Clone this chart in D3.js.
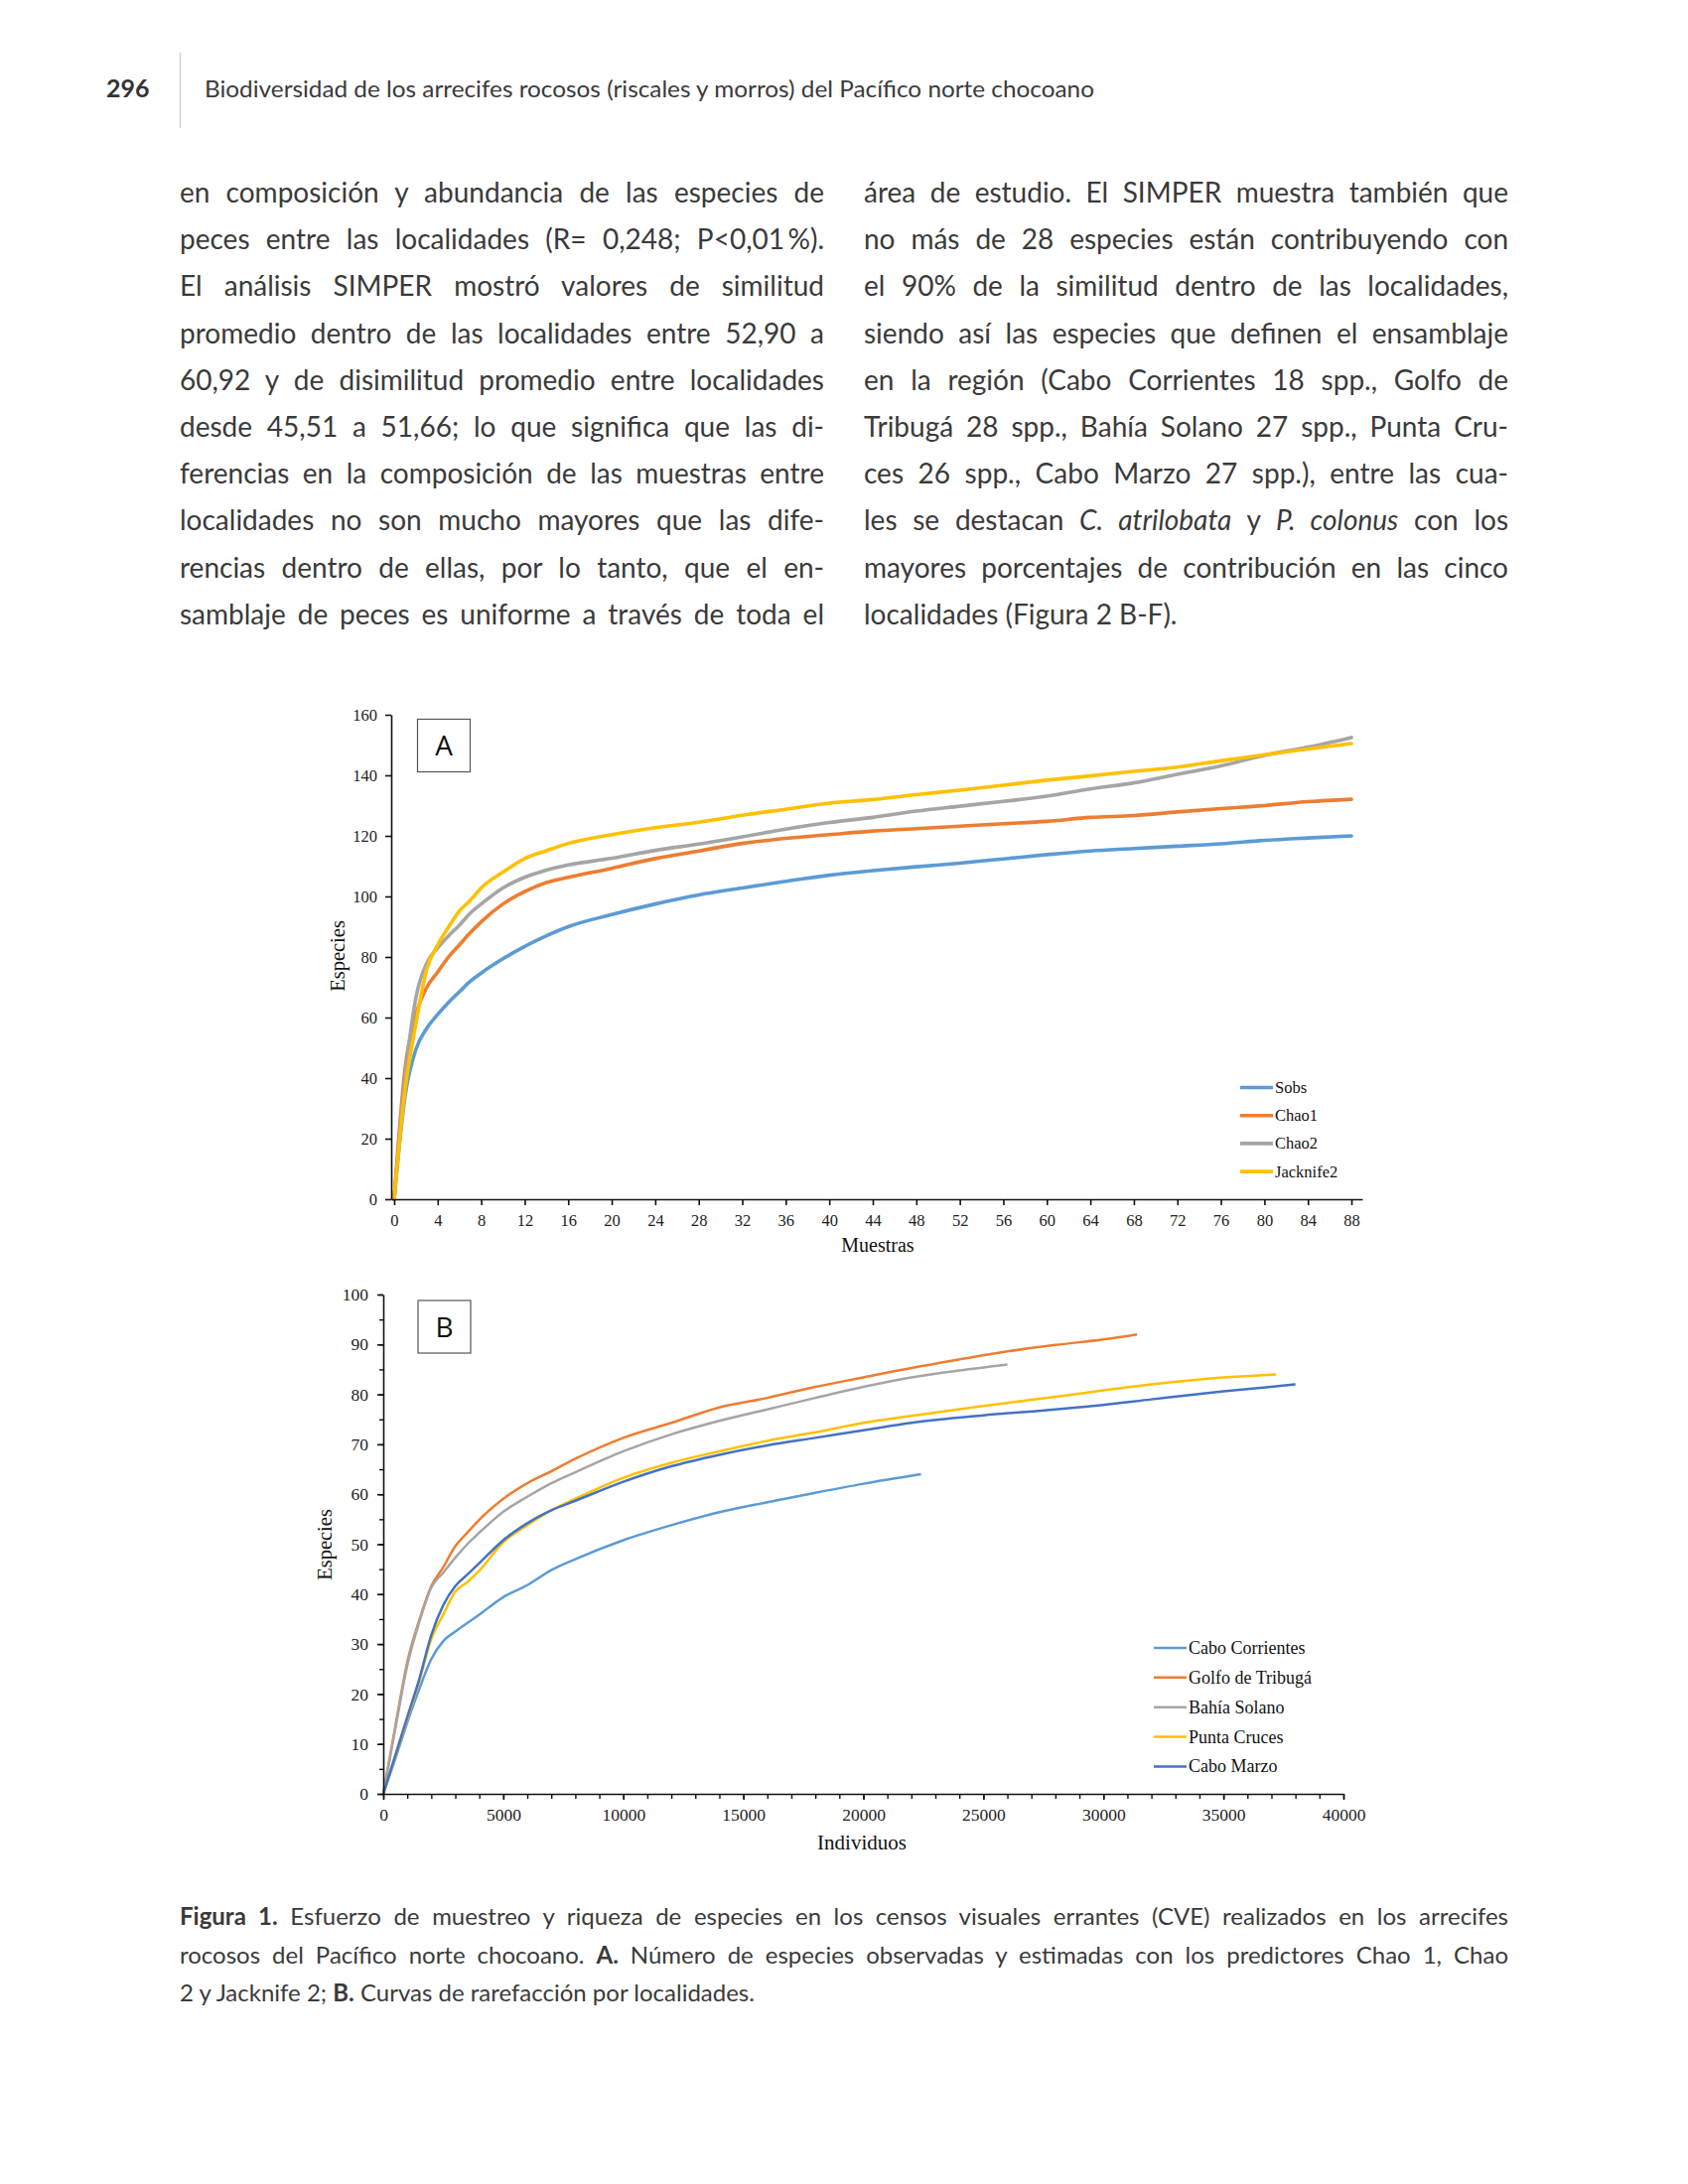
<!DOCTYPE html>
<html><head><meta charset="utf-8">
<script src="https://cdn.jsdelivr.net/npm/d3@7"></script>
<style>body{margin:0;background:#fff} svg{display:block}</style>
</head><body>
<svg id="page" width="1700" height="2200"></svg>
<script>
// ---------- DATA: Figure A (Muestras vs Especies) ----------
const samplesA = [0,1,2,3,4,5,6,7,8,10,12,14,16,20,24,28,32,36,40,44,48,52,56,60,64,68,72,76,80,84,88];
const sobs      = [0,34,49.5,56.5,61,65,68.5,72,74.7,79.4,83.5,87,90,94,97.5,100.5,102.8,105,107,108.5,109.8,111,112.4,113.8,115,115.8,116.6,117.4,118.5,119.3,120];
const chao1     = [0,43,61,70,75,80,84,88,91.6,97.5,101.6,104.6,106.3,109.3,112.5,115,117.5,119.2,120.4,121.6,122.4,123.2,124,124.8,126.1,126.7,127.9,129,130,131.3,132.1];
const chao2     = [0,40,66.5,78,83,87,90.5,94.5,97.5,102.8,106.3,108.7,110.4,112.6,115.2,117.3,119.7,122.2,124.4,126.1,128.2,129.8,131.4,133.1,135.5,137.5,140.3,143.1,146.6,149.3,152.5];
const jacknife2 = [0,36,58,76,84,89.9,95.2,98.7,102.8,108,112.5,115.1,117.5,120.4,122.7,124.5,126.8,128.8,130.8,132,133.6,135.1,136.7,138.4,139.8,141.3,142.7,144.8,146.8,148.7,150.5];
const namesA = ["Sobs","Chao1","Chao2","Jacknife2"];
const ticksAx = d3.range(0, 89, 4);
const ticksAy = d3.range(0, 161, 20);

// ---------- DATA: Figure B (Individuos vs Especies) ----------
const corrX  = [0,500,1000,1500,2000,2500,3000,4000,5000,6000,7000,8000,10000,12000,14000,16000,18000,20000,22400];
const corrY  = [0,7,14.3,21,27,30.6,32.5,35.9,39.4,41.8,44.8,47,50.8,53.8,56.4,58.4,60.3,62.1,64];
const golfoX = [0,500,1000,1500,2000,2500,3000,3500,4000,5000,6000,7000,8000,10000,12000,14000,16000,18000,20000,22000,24000,26000,28000,30000,31400];
const golfoY = [0,13.5,26.4,34.8,41.6,45.4,49.6,52.3,54.9,59.1,62.2,64.6,67.1,71.3,74.3,77.4,79.3,81.5,83.4,85.3,87,88.6,89.9,91,92];
const bahiaX = [0,500,1000,1500,2000,2500,3000,3500,4000,5000,6000,7000,8000,10000,12000,14000,16000,18000,20000,22000,24000,26000];
const bahiaY = [0,13,25.7,34.4,41.3,44.3,47.3,50,52.3,56.5,59.5,62.2,64.4,68.6,72,74.7,77,79.3,81.5,83.4,84.8,86];
const puntaX = [0,500,1000,1500,2000,2500,3000,3500,4000,5000,6000,7000,8000,10000,12000,14000,16000,18000,20000,22000,25000,28000,30000,32000,35000,37200];
const puntaY = [0,7.5,15,22.6,31,35.9,40.5,42.4,44.7,50.4,53.8,56.8,59.1,63.3,66.3,68.6,70.7,72.4,74.3,75.7,77.7,79.5,80.8,82,83.4,84];
const marzoX = [0,500,1000,1500,2000,2500,3000,3500,4000,5000,6000,7000,8000,10000,12000,14000,16000,18000,20000,22000,25000,28000,30000,32000,35000,38000];
const marzoY = [0,7.7,15.4,23,31.8,37.8,41.6,43.9,46.2,50.8,54.2,56.8,58.7,62.5,65.6,67.9,69.8,71.3,72.8,74.3,75.8,77,77.9,79,80.6,82];
const namesB = ["Cabo Corrientes","Golfo de Tribugá","Bahía Solano","Punta Cruces","Cabo Marzo"];
const ticksBx = d3.range(0, 40001, 5000);
const ticksBy = d3.range(0, 101, 10);

// ---------- TEXT ----------
const headerNum = "296";
const headerTitle = "Biodiversidad de los arrecifes rocosos (riscales y morros) del Pacífico norte chocoano";
const leftCol = [
  [{t:"en composición y abundancia de las especies de"}],
  [{t:"peces entre las localidades (R= 0,248; P<0,01\u2009%)."}],
  [{t:"El análisis SIMPER mostró valores de similitud"}],
  [{t:"promedio dentro de las localidades entre 52,90 a"}],
  [{t:"60,92 y de disimilitud promedio entre localidades"}],
  [{t:"desde 45,51 a 51,66; lo que significa que las di-"}],
  [{t:"ferencias en la composición de las muestras entre"}],
  [{t:"localidades no son mucho mayores que las dife-"}],
  [{t:"rencias dentro de ellas, por lo tanto, que el en-"}],
  [{t:"samblaje de peces es uniforme a través de toda el"}]
];
const rightCol = [
  [{t:"área de estudio. El SIMPER muestra también que"}],
  [{t:"no más de 28 especies están contribuyendo con"}],
  [{t:"el 90% de la similitud dentro de las localidades,"}],
  [{t:"siendo así las especies que definen el ensamblaje"}],
  [{t:"en la región (Cabo Corrientes 18 spp., Golfo de"}],
  [{t:"Tribugá 28 spp., Bahía Solano 27 spp., Punta Cru-"}],
  [{t:"ces 26 spp., Cabo Marzo 27 spp.), entre las cua-"}],
  [{t:"les se destacan "},{t:"C. atrilobata",i:1},{t:" y "},{t:"P. colonus",i:1},{t:" con los"}],
  [{t:"mayores porcentajes de contribución en las cinco"}],
  [{t:"localidades (Figura 2 B-F)."}]
];
const caption = [
  [{t:"Figura 1.",b:1},{t:" Esfuerzo de muestreo y riqueza de especies en los censos visuales errantes (CVE) realizados en los arrecifes"}],
  [{t:"rocosos del Pacífico norte chocoano. "},{t:"A.",b:1},{t:" Número de especies observadas y estimadas con los predictores Chao 1, Chao"}],
  [{t:"2 y Jacknife 2; "},{t:"B.",b:1},{t:" Curvas de rarefacción por localidades."}]
];

// ---------- DRAW ----------
const svg = d3.select("#page");
const textColor = "#3a3a3a";
const sans = "Lato, 'Open Sans', sans-serif";
const serif = "'Liberation Serif', 'Times New Roman', serif";

// header
svg.append("text").attr("x",107).attr("y",98).attr("font-family",sans).attr("font-weight","bold")
  .attr("font-size",25).attr("fill","#333").text(headerNum);
svg.append("line").attr("x1",181.5).attr("x2",181.5).attr("y1",53).attr("y2",129).attr("stroke","#c8c8c8").attr("stroke-width",1.2);
svg.append("text").attr("x",206).attr("y",98).attr("font-family",sans).attr("font-size",22.5)
  .attr("fill","#3a3a3a").attr("textLength",896).attr("lengthAdjust","spacingAndGlyphs").text(headerTitle);

function drawLine(g, x, y, width, segs, justify, size) {
  const t = g.append("text").attr("x",x).attr("y",y).attr("font-family",sans)
    .attr("font-size",size).attr("fill",textColor);
  segs.forEach(s => t.append("tspan").text(s.t)
    .attr("font-style", s.i ? "italic" : null)
    .attr("font-weight", s.b ? "bold" : null));
  const w = t.node().getComputedTextLength();
  if (justify) {
    const n = (segs.map(s=>s.t).join("").match(/ /g) || []).length;
    if (w < width && n > 0) t.attr("word-spacing", (width - w) / n);
    else if (w > width) t.attr("textLength", width).attr("lengthAdjust","spacingAndGlyphs");
  } else if (w > width) {
    t.attr("textLength", width).attr("lengthAdjust","spacingAndGlyphs");
  }
}
const body = svg.append("g");
const lineH = 47.2;
leftCol.forEach((l,i) => drawLine(body, 181, 204 + i*lineH, 649, l, true, 28));
rightCol.forEach((l,i) => drawLine(body, 870, 204 + i*lineH, 649, l, i < rightCol.length-1, 28));
caption.forEach((l,i) => drawLine(body, 181, 1939 + i*38.6, 1338, l, i < caption.length-1, 24));

// ---------- Chart A ----------
const gA = svg.append("g");
const xA = d3.scaleLinear().domain([-0.27, 89]).range([394, 1372]);
const yA = d3.scaleLinear().domain([0, 160]).range([1208, 720]);
const colorsA = ["#5B9BD5","#ED7D31","#A5A5A5","#FFC000"];
const seriesA = [sobs, chao1, chao2, jacknife2];
const lineGenA = d3.line().x(d => xA(d[0])).y(d => yA(d[1])).curve(d3.curveMonotoneX);
seriesA.forEach((s,k) => {
  gA.append("path").datum(samplesA.map((x,i) => [x, s[i]]))
    .attr("d", lineGenA).attr("fill","none").attr("stroke",colorsA[k])
    .attr("stroke-width",3.6).attr("stroke-linejoin","round").attr("stroke-linecap","round");
});
const axA_x = gA.append("g").attr("transform","translate(0,1208)")
  .call(d3.axisBottom(xA).tickValues(ticksAx).tickSize(6).tickSizeOuter(0).tickPadding(9).tickFormat(d3.format("d")));
const axA_y = gA.append("g").attr("transform","translate(394,0)")
  .call(d3.axisLeft(yA).tickValues(ticksAy).tickSize(6).tickSizeOuter(0).tickPadding(8).tickFormat(d3.format("d")));
[axA_x, axA_y].forEach(a => {
  a.selectAll("path,line").attr("stroke","#111").attr("stroke-width",1.6);
  a.selectAll("text").attr("font-family",serif).attr("font-size",16.5).attr("fill","#222");
});
gA.append("rect").attr("x",420.5).attr("y",724.5).attr("width",53).attr("height",53)
  .attr("fill","#fff").attr("stroke","#555").attr("stroke-width",1.2);
gA.append("text").attr("x",447).attr("y",761).attr("text-anchor","middle").attr("font-family","'Open Sans', sans-serif")
  .attr("font-size",28).attr("fill","#111").text("A");
gA.append("text").attr("x",884).attr("y",1261).attr("text-anchor","middle").attr("font-family",serif)
  .attr("font-size",20).attr("fill","#111").text("Muestras");
gA.append("text").attr("transform","translate(347,963) rotate(-90)").attr("text-anchor","middle").attr("font-family",serif)
  .attr("font-size",20.5).attr("fill","#111").text("Especies");
namesA.forEach((n,k) => {
  const y = 1095.5 + k*28.2;
  gA.append("line").attr("x1",1249).attr("x2",1282).attr("y1",y).attr("y2",y).attr("stroke",colorsA[k]).attr("stroke-width",3.6);
  gA.append("text").attr("x",1284).attr("y",y+5.5).attr("font-family",serif).attr("font-size",16.5).attr("fill","#111").text(n);
});

// ---------- Chart B ----------
const gB = svg.append("g");
const xB = d3.scaleLinear().domain([0, 40000]).range([386, 1353]);
const yB = d3.scaleLinear().domain([0, 100]).range([1807, 1304]);
const colorsB = ["#5B9BD5","#ED7D31","#A5A5A5","#FFC000","#4472C4"];
const seriesB = [[corrX,corrY],[golfoX,golfoY],[bahiaX,bahiaY],[puntaX,puntaY],[marzoX,marzoY]];
const lineGenB = d3.line().x(d => xB(d[0])).y(d => yB(d[1])).curve(d3.curveMonotoneX);
// minor ticks
gB.append("g").attr("transform","translate(0,1807)")
  .call(d3.axisBottom(xB).tickValues(d3.range(0,40001,1000)).tickSize(5).tickFormat(""))
  .call(a => { a.select(".domain").remove(); a.selectAll("line").attr("stroke","#111").attr("stroke-width",1.4); });
gB.append("g").attr("transform","translate(386,0)")
  .call(d3.axisLeft(yB).tickValues(d3.range(0,101,5)).tickSize(4).tickFormat(""))
  .call(a => { a.select(".domain").remove(); a.selectAll("line").attr("stroke","#111").attr("stroke-width",1.4); });
seriesB.forEach((s,k) => {
  gB.append("path").datum(s[0].map((x,i) => [x, s[1][i]]))
    .attr("d", lineGenB).attr("fill","none").attr("stroke",colorsB[k])
    .attr("stroke-width",2.5).attr("stroke-linejoin","round");
});
const axB_x = gB.append("g").attr("transform","translate(0,1807)")
  .call(d3.axisBottom(xB).tickValues(ticksBx).tickSize(6).tickSizeOuter(0).tickPadding(9).tickFormat(d3.format("d")));
const axB_y = gB.append("g").attr("transform","translate(386,0)")
  .call(d3.axisLeft(yB).tickValues(ticksBy).tickSize(6).tickSizeOuter(0).tickPadding(9).tickFormat(d3.format("d")));
[axB_x, axB_y].forEach(a => {
  a.selectAll("path,line").attr("stroke","#111").attr("stroke-width",1.6);
  a.selectAll("text").attr("font-family",serif).attr("font-size",17.5).attr("fill","#222");
});
gB.append("rect").attr("x",421).attr("y",1310).attr("width",53).attr("height",53)
  .attr("fill","#fff").attr("stroke","#555").attr("stroke-width",1.2);
gB.append("text").attr("x",447.5).attr("y",1347).attr("text-anchor","middle").attr("font-family","'Open Sans', sans-serif")
  .attr("font-size",28).attr("fill","#111").text("B");
gB.append("text").attr("x",868).attr("y",1863).attr("text-anchor","middle").attr("font-family",serif)
  .attr("font-size",21).attr("fill","#111").text("Individuos");
gB.append("text").attr("transform","translate(334,1556) rotate(-90)").attr("text-anchor","middle").attr("font-family",serif)
  .attr("font-size",20.5).attr("fill","#111").text("Especies");
namesB.forEach((n,k) => {
  const y = 1660 + k*29.85;
  gB.append("line").attr("x1",1162).attr("x2",1195).attr("y1",y).attr("y2",y).attr("stroke",colorsB[k]).attr("stroke-width",2.5);
  gB.append("text").attr("x",1197).attr("y",y+6).attr("font-family",serif).attr("font-size",18).attr("fill","#111").text(n);
});
</script>
</body></html>
